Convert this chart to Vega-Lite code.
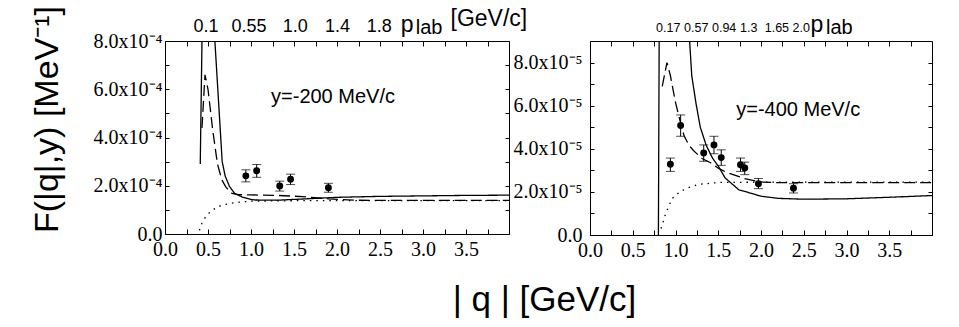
{
  "$schema": "https://vega.github.io/schema/vega-lite/v6.json",
  "padding": {"left": 29, "top": 4, "right": 5, "bottom": 5},
  "bounds": "flush",
  "spacing": 81,
  "config": {
    "view": {"stroke": "black", "strokeWidth": 1},
    "font": "Liberation Sans",
    "axis": {"grid": false, "domain": false, "tickColor": "black", "labelColor": "black", "titleColor": "black", "labelFont": "Liberation Serif", "labelFontSize": 20, "labelFlush": false, "labelOverlap": false, "labelBound": false, "tickWidth": 1}
  },
  "datasets": {
    "leftLines": [
      {"q": 0.41, "F": 2.9e-4, "model": "full"}, {"q": 0.43, "F": 8.0e-4, "model": "full"}, {"q": 0.45, "F": 9.5e-4, "model": "full"}, {"q": 0.56, "F": 9.5e-4, "model": "full"}, {"q": 0.58, "F": 8.0e-4, "model": "full"}, {"q": 0.665, "F": 3.0e-4, "model": "full"}, {"q": 0.70, "F": 2.4e-4, "model": "full"}, {"q": 0.75, "F": 1.97e-4, "model": "full"}, {"q": 0.81, "F": 1.68e-4, "model": "full"}, {"q": 0.9, "F": 1.53e-4, "model": "full"}, {"q": 1.0, "F": 1.43e-4, "model": "full"}, {"q": 1.05, "F": 1.41e-4, "model": "full"}, {"q": 1.3, "F": 1.40e-4, "model": "full"}, {"q": 1.6, "F": 1.45e-4, "model": "full"}, {"q": 2.0, "F": 1.52e-4, "model": "full"}, {"q": 2.5, "F": 1.56e-4, "model": "full"}, {"q": 3.0, "F": 1.58e-4, "model": "full"}, {"q": 3.5, "F": 1.60e-4, "model": "full"}, {"q": 4.0, "F": 1.61e-4, "model": "full"},
      {"q": 0.43, "F": 4.4e-4, "model": "nocorr"}, {"q": 0.465, "F": 6.6e-4, "model": "nocorr"}, {"q": 0.50, "F": 6.0e-4, "model": "nocorr"}, {"q": 0.555, "F": 4.3e-4, "model": "nocorr"}, {"q": 0.61, "F": 2.9e-4, "model": "nocorr"}, {"q": 0.66, "F": 2.25e-4, "model": "nocorr"}, {"q": 0.71, "F": 1.93e-4, "model": "nocorr"}, {"q": 0.78, "F": 1.68e-4, "model": "nocorr"}, {"q": 0.85, "F": 1.63e-4, "model": "nocorr"}, {"q": 1.0, "F": 1.62e-4, "model": "nocorr"}, {"q": 1.3, "F": 1.60e-4, "model": "nocorr"}, {"q": 1.6, "F": 1.55e-4, "model": "nocorr"}, {"q": 1.9, "F": 1.46e-4, "model": "nocorr"}, {"q": 2.2, "F": 1.40e-4, "model": "nocorr"}, {"q": 2.6, "F": 1.39e-4, "model": "nocorr"}, {"q": 4.0, "F": 1.39e-4, "model": "nocorr"},
      {"q": 0.40, "F": 0.15e-4, "model": "pwia"}, {"q": 0.43, "F": 0.45e-4, "model": "pwia"}, {"q": 0.46, "F": 0.65e-4, "model": "pwia"}, {"q": 0.52, "F": 0.9e-4, "model": "pwia"}, {"q": 0.57, "F": 1.03e-4, "model": "pwia"}, {"q": 0.65, "F": 1.18e-4, "model": "pwia"}, {"q": 0.77, "F": 1.28e-4, "model": "pwia"}, {"q": 0.9, "F": 1.33e-4, "model": "pwia"}, {"q": 1.0, "F": 1.36e-4, "model": "pwia"}, {"q": 1.5, "F": 1.38e-4, "model": "pwia"}, {"q": 2.0, "F": 1.38e-4, "model": "pwia"}, {"q": 3.0, "F": 1.38e-4, "model": "pwia"}, {"q": 4.0, "F": 1.38e-4, "model": "pwia"}
    ],
    "leftPts": [
      {"q": 0.94, "F": 2.41e-4, "lo": 2.16e-4, "hi": 2.66e-4},
      {"q": 1.066, "F": 2.62e-4, "lo": 2.35e-4, "hi": 2.88e-4},
      {"q": 1.334, "F": 1.99e-4, "lo": 1.78e-4, "hi": 2.19e-4},
      {"q": 1.46, "F": 2.27e-4, "lo": 2.05e-4, "hi": 2.48e-4},
      {"q": 1.90, "F": 1.92e-4, "lo": 1.73e-4, "hi": 2.10e-4}
    ],
    "rightLines": [
      {"q": 0.80, "F": 0, "model": "full"}, {"q": 0.81, "F": 1.0e-4, "model": "full"}, {"q": 1.16, "F": 1.0e-4, "model": "full"}, {"q": 1.165, "F": 9.0e-5, "model": "full"}, {"q": 1.19, "F": 7.4e-5, "model": "full"}, {"q": 1.24, "F": 6.1e-5, "model": "full"}, {"q": 1.29, "F": 5.0e-5, "model": "full"}, {"q": 1.36, "F": 4.15e-5, "model": "full"}, {"q": 1.435, "F": 3.55e-5, "model": "full"}, {"q": 1.5, "F": 3.2e-5, "model": "full"}, {"q": 1.58, "F": 2.65e-5, "model": "full"}, {"q": 1.74, "F": 2.1e-5, "model": "full"}, {"q": 1.89, "F": 1.93e-5, "model": "full"}, {"q": 2.0, "F": 1.8e-5, "model": "full"}, {"q": 2.2, "F": 1.7e-5, "model": "full"}, {"q": 2.5, "F": 1.66e-5, "model": "full"}, {"q": 3.0, "F": 1.68e-5, "model": "full"}, {"q": 3.5, "F": 1.75e-5, "model": "full"}, {"q": 4.0, "F": 1.83e-5, "model": "full"},
      {"q": 0.845, "F": 6.9e-5, "model": "nocorr"}, {"q": 0.90, "F": 8.0e-5, "model": "nocorr"}, {"q": 0.94, "F": 7.4e-5, "model": "nocorr"}, {"q": 1.0, "F": 6.15e-5, "model": "nocorr"}, {"q": 1.04, "F": 5.5e-5, "model": "nocorr"}, {"q": 1.10, "F": 4.6e-5, "model": "nocorr"}, {"q": 1.16, "F": 4.15e-5, "model": "nocorr"}, {"q": 1.21, "F": 3.92e-5, "model": "nocorr"}, {"q": 1.31, "F": 3.55e-5, "model": "nocorr"}, {"q": 1.41, "F": 3.35e-5, "model": "nocorr"}, {"q": 1.5, "F": 3.1e-5, "model": "nocorr"}, {"q": 1.6, "F": 2.9e-5, "model": "nocorr"}, {"q": 1.7, "F": 2.77e-5, "model": "nocorr"}, {"q": 1.8, "F": 2.62e-5, "model": "nocorr"}, {"q": 1.99, "F": 2.46e-5, "model": "nocorr"}, {"q": 2.2, "F": 2.43e-5, "model": "nocorr"}, {"q": 4.0, "F": 2.43e-5, "model": "nocorr"},
      {"q": 0.83, "F": 0.3e-5, "model": "pwia"}, {"q": 0.845, "F": 0.46e-5, "model": "pwia"}, {"q": 0.885, "F": 1.0e-5, "model": "pwia"}, {"q": 0.96, "F": 1.69e-5, "model": "pwia"}, {"q": 1.05, "F": 2.0e-5, "model": "pwia"}, {"q": 1.14, "F": 2.18e-5, "model": "pwia"}, {"q": 1.27, "F": 2.35e-5, "model": "pwia"}, {"q": 1.52, "F": 2.44e-5, "model": "pwia"}, {"q": 2.0, "F": 2.45e-5, "model": "pwia"}, {"q": 4.0, "F": 2.45e-5, "model": "pwia"}
    ],
    "rightPts": [
      {"q": 0.94, "F": 3.28e-5, "lo": 2.95e-5, "hi": 3.57e-5},
      {"q": 1.06, "F": 5.08e-5, "lo": 4.58e-5, "hi": 5.57e-5},
      {"q": 1.33, "F": 3.80e-5, "lo": 3.42e-5, "hi": 4.18e-5},
      {"q": 1.45, "F": 4.18e-5, "lo": 3.77e-5, "hi": 4.58e-5},
      {"q": 1.535, "F": 3.59e-5, "lo": 3.23e-5, "hi": 3.95e-5},
      {"q": 1.76, "F": 3.26e-5, "lo": 2.95e-5, "hi": 3.57e-5},
      {"q": 1.81, "F": 3.11e-5, "lo": 2.80e-5, "hi": 3.38e-5},
      {"q": 1.97, "F": 2.38e-5, "lo": 2.15e-5, "hi": 2.62e-5},
      {"q": 2.38, "F": 2.17e-5, "lo": 1.95e-5, "hi": 2.38e-5}
    ]
  },
  "hconcat": [
    {
      "width": 344,
      "height": 193,
      "layer": [
        {
          "data": {"name": "leftLines"},
          "mark": {"type": "line", "clip": true, "color": "black", "strokeWidth": 1.3},
          "encoding": {
            "x": {"field": "q", "type": "quantitative", "scale": {"domain": [0, 4], "nice": false, "zero": false},
              "axis": {"orient": "bottom", "values": [0, 0.25, 0.5, 0.75, 1, 1.25, 1.5, 1.75, 2, 2.25, 2.5, 2.75, 3, 3.25, 3.5, 3.75],
                "labelExpr": "datum.value * 2 == round(datum.value * 2) ? format(datum.value, '.1f') : ''",
                "tickSize": -5, "labelPadding": 26, "labelBaseline": "alphabetic",
                "title": "| q | [GeV/c]", "titleFont": "Liberation Sans", "titleFontSize": 35, "titleFontWeight": "normal",
                "titleX": 379, "titleY": 76, "titleBaseline": "alphabetic", "titleAlign": "center"}},
            "y": {"field": "F", "type": "quantitative", "scale": {"domain": [0, 0.0008], "nice": false, "zero": false},
              "axis": {"orient": "left", "values": [0, 0.0001, 0.0002, 0.0003, 0.0004, 0.0005, 0.0006, 0.0007, 0.0008],
                "labelExpr": "datum.value == 0 ? '0.0' : (round(datum.value * 10000) % 2 == 0 ? format(round(datum.value * 10000), '.1f') + 'x10⁻⁴' : '')",
                "tickSize": -4, "labelPadding": 7, "labelBaseline": "middle",
                "title": "F(|q|,y) [MeV⁻¹]", "titleFont": "Liberation Sans", "titleFontSize": 34, "titleFontWeight": "normal",
                "titleX": -108, "titleY": 78, "titleBaseline": "alphabetic", "titleAngle": 270, "titleAlign": "center"}},
            "strokeDash": {"field": "model", "type": "nominal", "scale": {"domain": ["full", "nocorr", "pwia"], "range": [[1, 0], [11, 5], [1.5, 5]]}, "legend": null}
          }
        },
        {
          "data": {"name": "leftPts"},
          "mark": {"type": "errorbar", "ticks": {"size": 9, "color": "black"}, "rule": {"color": "black"}},
          "encoding": {
            "x": {"field": "q", "type": "quantitative", "scale": {"domain": [0, 4], "nice": false, "zero": false},
              "axis": {"orient": "top", "values": [0, 0.25, 0.5, 0.75, 1, 1.25, 1.5, 1.75, 2, 2.25, 2.5, 2.75, 3, 3.25, 3.5, 3.75], "labels": false, "tickSize": -5, "title": null}},
            "y": {"field": "lo", "type": "quantitative", "scale": {"domain": [0, 0.0008], "nice": false, "zero": false},
              "axis": {"orient": "right", "values": [0, 0.0001, 0.0002, 0.0003, 0.0004, 0.0005, 0.0006, 0.0007, 0.0008], "labels": false, "tickSize": -4, "title": null}},
            "y2": {"field": "hi"}
          }
        },
        {
          "data": {"name": "leftPts"},
          "mark": {"type": "point", "shape": "circle", "filled": true, "color": "black", "size": 48, "opacity": 1},
          "encoding": {
            "x": {"field": "q", "type": "quantitative", "scale": {"domain": [0, 4], "nice": false, "zero": false},
              "axis": {"orient": "top", "values": [0.47, 0.97, 1.51, 2.0, 2.485], "ticks": false, "labelFont": "Liberation Sans", "labelFontSize": 18, "labelPadding": 10, "labelBaseline": "alphabetic",
                "labelExpr": "datum.value < 0.7 ? '0.1' : datum.value < 1.2 ? '0.55' : datum.value < 1.7 ? '1.0' : datum.value < 2.2 ? '1.4' : '1.8'", "title": null}},
            "y": {"field": "F", "type": "quantitative", "scale": {"domain": [0, 0.0008], "nice": false, "zero": false}, "axis": null}
          }
        },
        {
          "data": {"values": [{}]},
          "mark": {"type": "text", "text": "y=-200 MeV/c", "align": "left", "baseline": "alphabetic", "fontSize": 20, "font": "Liberation Sans", "color": "black"},
          "encoding": {
            "x": {"datum": 1.233, "type": "quantitative", "axis": null},
            "y": {"datum": 0.000544, "type": "quantitative", "axis": null}
          }
        },
        {
          "data": {"values": [{}]},
          "mark": {"type": "text", "text": "p", "align": "left", "baseline": "alphabetic", "fontSize": 23, "font": "Liberation Sans", "color": "black", "dy": -9},
          "encoding": {
            "x": {"datum": 2.74, "type": "quantitative", "axis": null},
            "y": {"datum": 0.0008, "type": "quantitative", "axis": null}
          }
        },
        {
          "data": {"values": [{}]},
          "mark": {"type": "text", "text": "lab", "align": "left", "baseline": "alphabetic", "fontSize": 20, "font": "Liberation Sans", "color": "black", "dy": -7},
          "encoding": {
            "x": {"datum": 2.915, "type": "quantitative", "axis": null},
            "y": {"datum": 0.0008, "type": "quantitative", "axis": null}
          }
        },
        {
          "data": {"values": [{}]},
          "mark": {"type": "text", "text": "[GeV/c]", "align": "left", "baseline": "alphabetic", "fontSize": 23, "font": "Liberation Sans", "color": "black", "dy": -15},
          "encoding": {
            "x": {"datum": 3.32, "type": "quantitative", "axis": null},
            "y": {"datum": 0.0008, "type": "quantitative", "axis": null}
          }
        }
      ],
      "resolve": {"axis": {"x": "independent", "y": "independent"}}
    },
    {
      "width": 342,
      "height": 194,
      "layer": [
        {
          "data": {"name": "rightLines"},
          "mark": {"type": "line", "clip": true, "color": "black", "strokeWidth": 1.3},
          "encoding": {
            "x": {"field": "q", "type": "quantitative", "scale": {"domain": [0, 4], "nice": false, "zero": false},
              "axis": {"orient": "bottom", "values": [0, 0.25, 0.5, 0.75, 1, 1.25, 1.5, 1.75, 2, 2.25, 2.5, 2.75, 3, 3.25, 3.5, 3.75],
                "labelExpr": "datum.value * 2 == round(datum.value * 2) ? format(datum.value, '.1f') : ''",
                "tickSize": -5, "labelPadding": 26, "labelBaseline": "alphabetic", "title": null}},
            "y": {"field": "F", "type": "quantitative", "scale": {"domain": [0, 0.00009], "nice": false, "zero": false},
              "axis": {"orient": "left", "values": [0, 0.00001, 0.00002, 0.00003, 0.00004, 0.00005, 0.00006, 0.00007, 0.00008, 0.00009],
                "labelExpr": "datum.value == 0 ? '0.0' : (round(datum.value * 100000) % 2 == 0 ? format(round(datum.value * 100000), '.1f') + 'x10⁻⁵' : '')",
                "tickSize": -4, "labelPadding": 12, "labelBaseline": "middle", "title": null}},
            "strokeDash": {"field": "model", "type": "nominal", "scale": {"domain": ["full", "nocorr", "pwia"], "range": [[1, 0], [11, 5], [1.5, 5]]}, "legend": null}
          }
        },
        {
          "data": {"name": "rightPts"},
          "mark": {"type": "errorbar", "ticks": {"size": 9, "color": "black"}, "rule": {"color": "black"}},
          "encoding": {
            "x": {"field": "q", "type": "quantitative", "scale": {"domain": [0, 4], "nice": false, "zero": false},
              "axis": {"orient": "top", "values": [0, 0.25, 0.5, 0.75, 1, 1.25, 1.5, 1.75, 2, 2.25, 2.5, 2.75, 3, 3.25, 3.5, 3.75], "labels": false, "tickSize": -5, "title": null}},
            "y": {"field": "lo", "type": "quantitative", "scale": {"domain": [0, 0.00009], "nice": false, "zero": false},
              "axis": {"orient": "right", "values": [0, 0.00001, 0.00002, 0.00003, 0.00004, 0.00005, 0.00006, 0.00007, 0.00008], "labels": false, "tickSize": -4, "title": null}},
            "y2": {"field": "hi"}
          }
        },
        {
          "data": {"name": "rightPts"},
          "mark": {"type": "point", "shape": "circle", "filled": true, "color": "black", "size": 48, "opacity": 1},
          "encoding": {
            "x": {"field": "q", "type": "quantitative", "scale": {"domain": [0, 4], "nice": false, "zero": false},
              "axis": {"orient": "top", "values": [0.909, 1.236, 1.563, 1.85, 2.18, 2.465], "ticks": false, "labelFont": "Liberation Sans", "labelFontSize": 12.5, "labelPadding": 10, "labelBaseline": "alphabetic",
                "labelExpr": "datum.value < 1.0 ? '0.17' : datum.value < 1.4 ? '0.57' : datum.value < 1.7 ? '0.94' : datum.value < 2.0 ? '1.3' : datum.value < 2.3 ? '1.65' : '2.0'", "title": null}},
            "y": {"field": "F", "type": "quantitative", "scale": {"domain": [0, 0.00009], "nice": false, "zero": false}, "axis": null}
          }
        },
        {
          "data": {"values": [{}]},
          "mark": {"type": "text", "text": "y=-400 MeV/c", "align": "left", "baseline": "alphabetic", "fontSize": 20, "font": "Liberation Sans", "color": "black"},
          "encoding": {
            "x": {"datum": 1.71, "type": "quantitative", "axis": null},
            "y": {"datum": 0.000055, "type": "quantitative", "axis": null}
          }
        },
        {
          "data": {"values": [{}]},
          "mark": {"type": "text", "text": "p", "align": "left", "baseline": "alphabetic", "fontSize": 23, "font": "Liberation Sans", "color": "black", "dy": -9},
          "encoding": {
            "x": {"datum": 2.58, "type": "quantitative", "axis": null},
            "y": {"datum": 0.00009, "type": "quantitative", "axis": null}
          }
        },
        {
          "data": {"values": [{}]},
          "mark": {"type": "text", "text": "lab", "align": "left", "baseline": "alphabetic", "fontSize": 20, "font": "Liberation Sans", "color": "black", "dy": -7},
          "encoding": {
            "x": {"datum": 2.76, "type": "quantitative", "axis": null},
            "y": {"datum": 0.00009, "type": "quantitative", "axis": null}
          }
        }
      ],
      "resolve": {"axis": {"x": "independent", "y": "independent"}}
    }
  ]
}
